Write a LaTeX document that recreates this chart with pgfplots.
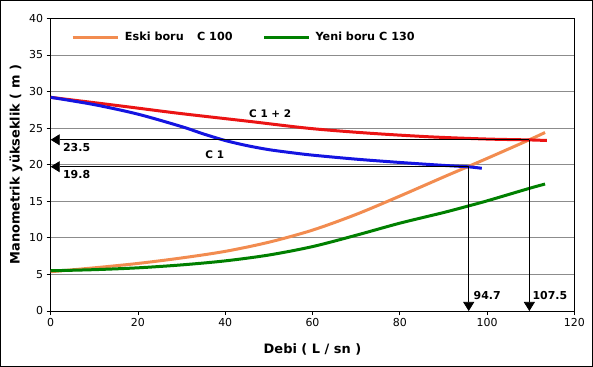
\documentclass[border=0pt]{standalone}
\usepackage{pgfplots}
\pgfplotsset{compat=1.18}
\usepackage{fontspec}
\setmainfont{DejaVu Sans}
\usetikzlibrary{arrows.meta}
\definecolor{eski}{RGB}{242,140,80}
\definecolor{yeni}{RGB}{0,128,0}
\definecolor{cred}{RGB}{235,20,20}
\definecolor{cblue}{RGB}{20,20,225}
\begin{document}
\begin{tikzpicture}
\begin{axis}[
  scale only axis,
  width=523.6bp, height=292.7bp,
  xmin=0, xmax=120, ymin=0, ymax=40,
  xtick={0,20,...,120}, ytick={0,5,...,40},
  tick align=outside, major tick length=4bp,
  xtick pos=bottom, ytick pos=left,
  ymajorgrids, grid style={gray!90, line width=0.75bp},
  axis line style={black, line width=0.9bp},
  tick style={black, line width=0.75bp},
  ticklabel style={font=\fontsize{11}{13}\selectfont, text=black},
  /pgf/number format/assume math mode=true,
  xlabel={\fontsize{13}{15}\selectfont\bfseries Debi ( L / sn )},
  ylabel={\fontsize{13}{15}\selectfont\bfseries Manometrik yükseklik ( m )},
  xlabel style={yshift=-10bp},
  ylabel style={yshift=0bp},
  legend columns=2,
  legend style={draw=none, fill=none, at={(0.0384,0.935)}, anchor=west,
    font=\fontsize{11.25}{13}\selectfont\bfseries, inner sep=0pt,
    /tikz/every even column/.append style={column sep=28bp}},
  legend image code/.code={\draw[#1] (0bp,0bp) -- (45bp,0bp);},
  clip=false,
]
\addplot[eski, line width=3bp, smooth] coordinates {
 (0,5.37) (10,5.9) (20,6.5) (30,7.25) (40,8.15) (50,9.4) (60,11.05) (70,13.2) (80,15.7) (90,18.3) (95.7,19.75) (100,20.85) (109.7,23.4) (113.3,24.4)};
\addlegendentry{\hspace{4bp}Eski boru\hspace{1.1em}\hspace{1bp}C 100}
\addplot[yeni, line width=3bp, smooth] coordinates {
 (0,5.5) (10,5.65) (20,5.9) (30,6.3) (40,6.85) (50,7.65) (60,8.8) (70,10.35) (80,12.0) (90,13.45) (95.7,14.35) (100,15.05) (109.7,16.76) (113.3,17.35)};
\addlegendentry{\hspace{3bp}Yeni boru C 130}
\addplot[cred, line width=3bp, smooth, forget plot] coordinates {
 (0,29.2) (15,28.1) (29.6,27.0) (45,25.95) (59.4,24.95) (73,24.3) (87,23.8) (100,23.5) (109.7,23.38) (113.7,23.3)};
\addplot[cblue, line width=3bp, smooth, forget plot] coordinates {
 (0,29.2) (10,28.2) (20,26.9) (30,25.2) (35,24.2) (40,23.3) (45,22.6) (50,22.05) (55,21.65) (60,21.3) (70,20.75) (80,20.3) (90,19.9) (95.8,19.7) (98.8,19.5)};
% indicator lines
\addplot[black, line width=0.75bp, -{Triangle[length=9bp,width=11bp]}, forget plot] coordinates {(109.7,23.4) (0,23.4)};
\addplot[black, line width=0.75bp, -{Triangle[length=9bp,width=11bp]}, forget plot] coordinates {(95.8,19.72) (0,19.72)};
\addplot[black, line width=0.75bp, -{Triangle[length=9bp,width=11bp]}, forget plot] coordinates {(109.7,23.4) (109.7,0)};
\addplot[black, line width=0.75bp, -{Triangle[length=9bp,width=11bp]}, forget plot] coordinates {(95.8,19.72) (95.8,0)};
\node[anchor=north west, inner sep=0pt, font=\fontsize{11}{12}\selectfont\bfseries] at (axis cs:2.8,22.9) {23.5};
\node[anchor=north west, inner sep=0pt, font=\fontsize{11}{12}\selectfont\bfseries] at (axis cs:2.8,19.2) {19.8};
\node[anchor=west, inner sep=0pt, font=\fontsize{11}{12}\selectfont\bfseries] at (axis cs:96.9,2.1) {94.7};
\node[anchor=west, inner sep=0pt, font=\fontsize{11}{12}\selectfont\bfseries] at (axis cs:110.4,2.1) {107.5};
\node[anchor=center, inner sep=0pt, font=\fontsize{10.5}{12}\selectfont\bfseries] at (axis cs:50.3,27.0) {C 1 + 2};
\node[anchor=center, inner sep=0pt, font=\fontsize{10.5}{12}\selectfont\bfseries] at (axis cs:37.6,21.4) {C 1};
\end{axis}
\draw[black, line width=1bp] ([xshift=-50.2bp,yshift=-55.5bp]current axis.south west) rectangle ([xshift=18.2bp,yshift=17.8bp]current axis.north east);
\end{tikzpicture}
\end{document}
